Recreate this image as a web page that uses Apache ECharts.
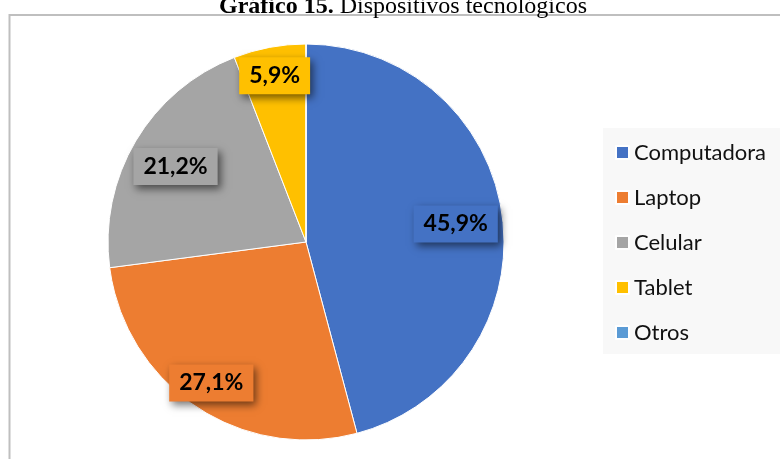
<!DOCTYPE html>
<html>
<head>
<meta charset="utf-8">
<script src="https://cdn.jsdelivr.net/npm/echarts@6/dist/echarts.min.js"></script>
<style>html,body{margin:0;padding:0;background:#fff}#c{width:780px;height:459px}</style>
</head>
<body>
<div id="c"></div>
<script>
const categories = ['Computadora', 'Laptop', 'Celular', 'Tablet', 'Otros'];
const values = [45.9, 27.1, 21.2, 5.9, 0];
const labels = ['45,9%', '27,1%', '21,2%', '5,9%', ''];
const palette = ['#4472C4', '#ED7D31', '#A5A5A5', '#FFC000', '#5B9BD5'];
const labelOffsets = [[-3, 2], [-9, 13], [2, 3], [-3, -15], [0, 0]];

const chart = echarts.init(document.getElementById('c'), null, {renderer: 'canvas'});
const R = 198, CX = 306, CY = 242;

const mainData = categories.map((n, i) => ({name: n, value: values[i], itemStyle: {color: palette[i]}}));
const labelData = categories.map((n, i) => ({
  name: n, value: values[i],
  label: {
    show: values[i] > 0,
    formatter: labels[i],
    backgroundColor: palette[i],
    offset: labelOffsets[i]
  }
}));

chart.setOption({
  animation: false,
  title: {
    text: '{b|Gráfico 15.} {n|Dispositivos tecnológicos}',
    left: 398, top: -10, textAlign: 'center',
    textStyle: {
      fontWeight: 'normal', fontSize: 24, fontFamily: 'Liberation Serif',
      rich: {
        b: {fontFamily: 'Liberation Serif', fontWeight: 'bold', fontSize: 24, color: '#000'},
        n: {fontFamily: 'Liberation Serif', fontWeight: 'normal', fontSize: 24, color: '#000'}
      }
    }
  },
  graphic: [
    {type: 'rect', z: -10, shape: {x: 9.5, y: 15, width: 800, height: 500}, style: {fill: '#fff', stroke: '#bfbfbf', lineWidth: 2}},
    {type: 'rect', z: -5, shape: {x: 603, y: 128, width: 180, height: 226}, style: {fill: '#f8f8f8'}}
  ],
  legend: {
    orient: 'vertical', left: 610, top: 136,
    itemWidth: 13, itemHeight: 13, itemGap: 22,
    icon: 'rect',
    data: categories,
    textStyle: {fontFamily: 'Lato', fontSize: 22, color: '#111', lineHeight: 23}
  },
  series: [
    {
      type: 'pie', center: [CX, CY], radius: [0, R],
      startAngle: 90, clockwise: true,
      label: {show: false}, labelLine: {show: false},
      itemStyle: {borderColor: '#fff', borderWidth: 1},
      emphasis: {disabled: true},
      data: mainData
    },
    {
      type: 'pie', center: [CX, CY], radius: [104, R],
      startAngle: 90, clockwise: true, silent: true,
      legendHoverLink: false,
      itemStyle: {color: 'rgba(0,0,0,0)'},
      emphasis: {disabled: true},
      label: {
        show: true, position: 'inside',
        fontFamily: 'Lato', fontWeight: 'bold', fontSize: 23, color: '#000',
        padding: [8, 10, 6, 10],
        shadowColor: 'rgba(0,0,0,0.55)', shadowBlur: 8, shadowOffsetX: 3, shadowOffsetY: 4
      },
      labelLine: {show: false},
      data: labelData
    }
  ]
});
</script>
</body>
</html>
